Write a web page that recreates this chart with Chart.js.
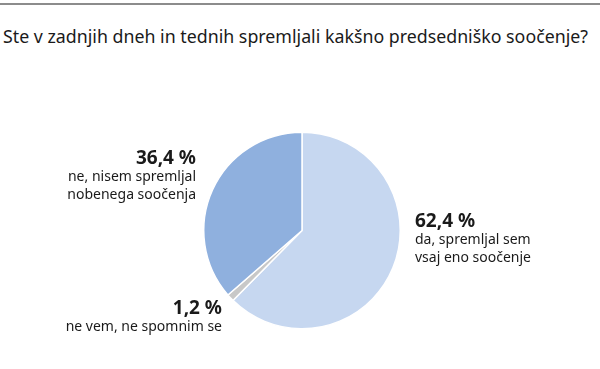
<!DOCTYPE html>
<html>
<head>
<meta charset="utf-8">
<script src="https://cdn.jsdelivr.net/npm/chart.js@4"></script>
<style>
  html, body { margin:0; padding:0; background:#fff; }
  #wrap { position:relative; width:600px; height:369px; overflow:hidden; }
  #topline { position:absolute; left:0; top:3px; width:600px; height:2px; background:#8c8c8c; }
  #title { position:absolute; left:3px; top:24px; font:17.8px "Noto Sans", sans-serif; color:#1a1a1a; white-space:nowrap; }
  canvas { position:absolute; left:0; top:0; }
</style>
</head>
<body>
<div id="wrap">
  <div id="topline"></div>
  <div id="title">Ste v zadnjih dneh in tednih spremljali kakšno predsedniško soočenje?</div>
  <canvas id="pie" width="600" height="369"></canvas>
</div>
<script>
// podatki
const labels = ['da, spremljal sem vsaj eno soočenje', 'ne vem, ne spomnim se', 'ne, nisem spremljal nobenega soočenja'];
const values = [62.4, 1.2, 36.4];
const colors = ['#c6d7f0', '#c8c8c8', '#8fb0de'];

// opisi ob rezinah: [vrstice], poravnava, odmik od središča
const notes = [
  { lines: ['da, spremljal sem', 'vsaj eno soočenje'], align: 'left',  dx: 113, dy: -9 },
  { lines: ['ne vem, ne spomnim se'],                  align: 'right', dx: -80, dy: 78 },
  { lines: ['ne, nisem spremljal', 'nobenega soočenja'], align: 'right', dx: -106, dy: -72 },
];

const fmt = v => v.toFixed(1).replace('.', ',') + ' %';

const notePlugin = {
  id: 'notes',
  afterDraw(chart) {
    const arc = chart.getDatasetMeta(0).data[0];
    if (!arc) return;
    const { x, y } = arc;
    const ctx = chart.ctx;
    ctx.save();
    ctx.fillStyle = '#1a1a1a';
    ctx.textBaseline = 'middle';
    notes.forEach((n, i) => {
      ctx.textAlign = n.align;
      const tx = x + n.dx, ty = y + n.dy;
      ctx.font = 'bold 19px "Noto Sans", sans-serif';
      ctx.fillText(fmt(values[i]), tx, ty);
      ctx.font = '14px "Noto Sans", sans-serif';
      n.lines.forEach((l, k) => ctx.fillText(l, tx, ty + 19 + k * 18));
    });
    ctx.restore();
  }
};

new Chart(document.getElementById('pie'), {
  type: 'pie',
  data: {
    labels,
    datasets: [{ data: values, backgroundColor: colors, borderColor: '#fff', borderWidth: 1.5 }]
  },
  options: {
    responsive: false,
    animation: false,
    layout: { padding: { left: 203, right: 199, top: 131, bottom: 39 } },
    plugins: { legend: { display: false }, tooltip: { enabled: false } }
  },
  plugins: [notePlugin]
});
</script>
</body>
</html>
